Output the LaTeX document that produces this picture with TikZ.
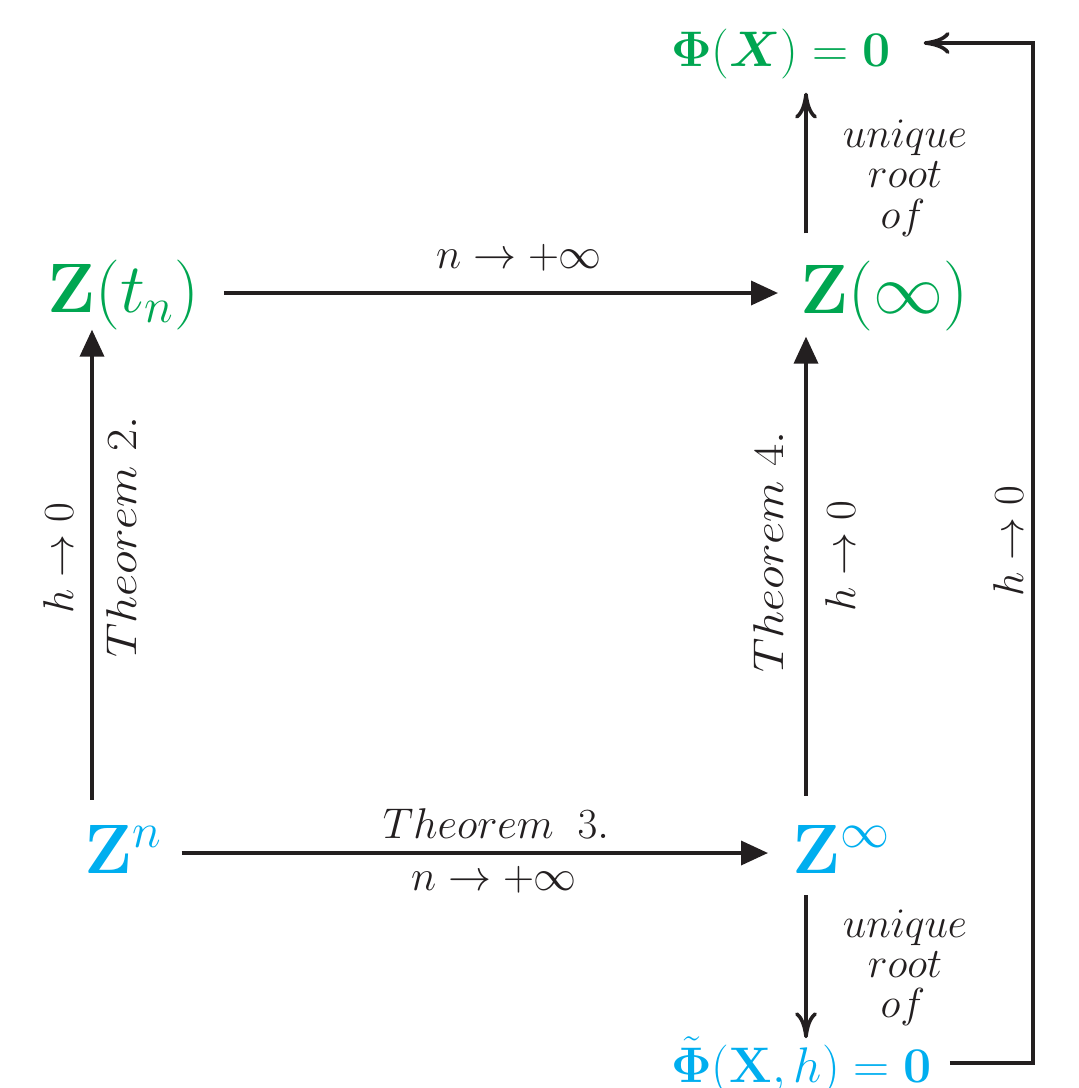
\RequirePackage{fix-cm}
\documentclass[tikz,border=0pt]{standalone}
\usepackage{amsmath,bm}
\usepackage{graphicx}
\usetikzlibrary{arrows.meta,calc}
\definecolor{zgreen}{RGB}{0,166,81}
\definecolor{zcyan}{RGB}{0,174,239}
\definecolor{lineC}{RGB}{35,31,32}
\tikzset{
  ln/.style={line width=3.6pt, draw=lineC},
  tri/.style={ln, -{Triangle[length=27pt,width=24pt]}},
  barb/.style={ln, -{Computer Modern Rightarrow[length=26pt,width=22pt]}},
  zb/.style={anchor=base west, inner sep=0pt, font=\fontsize{70}{84}\selectfont},
  eqn/.style={anchor=base west, inner sep=0pt, font=\fontsize{50}{60}\selectfont},
  lab/.style={anchor=base, inner sep=0pt, text=lineC, font=\fontsize{43}{50}\selectfont},
  rlab/.style={lab, rotate=90},
}
\begin{document}
\begin{tikzpicture}[x=1pt,y=-1pt]
\useasboundingbox (0,0) rectangle (1079,1088);
% guide coordinates
\coordinate (cL) at (92,0);
\coordinate (cR) at (806,0);
\coordinate (cLoop) at (1033,0);
\coordinate (rT) at (0,293);
\coordinate (rB) at (0,853);
\coordinate (rLT) at (0,43);
\coordinate (rLB) at (0,1063);
% main nodes
\node[zb, text=zgreen] (Zt) at (47,312) {$\mathbf{Z}(t_n)$};
\node[zb, text=zgreen] (Zinf) at (800,313) {$\mathbf{Z}(\infty)$};
\node[zb, text=zcyan] (Zn) at (84,873) {$\mathbf{Z}^n$};
\node[zb, text=zcyan] (Zinfb) at (792,873) {$\mathbf{Z}^\infty$};
\node[eqn, text=zgreen] (Phi) at (671,66) {$\mathbf{\Phi}(\bm{X})=\mathbf{0}$};
\node[eqn, text=zcyan] (Phit) at (671,1082) {$\tilde{\mathbf{\Phi}}(\mathbf{X},h)=\mathbf{0}$};
% connectors
\draw[tri] ($(Zt.east|-rT)+(25,0)$) -- ($(Zinf.west|-rT)+(-22,0)$);
\draw[tri] ($(Zn.east|-rB)+(20,0)$) -- ($(Zinfb.west|-rB)+(-24,0)$);
\draw[tri] ($(Zn.north-|cL)+(0,-25)$) -- ($(Zt.south-|cL)+(0,0)$);
\draw[tri] ($(Zinfb.north-|cR)+(0,-29)$) -- ($(Zinf.south-|cR)+(0,6)$);
\draw[barb] ($(Zinf.north-|cR)+(0,-27)$) -- ($(Phi.south-|cR)+(0,14)$);
\draw[barb] ($(Zinfb.south-|cR)+(0,22)$) -- ($(Phit.north-|cR)+(0,2)$);
\draw[barb] ($(Phit.east|-rLB)+(18,0)$) -- (cLoop|-rLB) -- (cLoop|-rLT) -- ($(Phi.east|-rLT)+(33,0)$);
% labels
\node[lab] (lTop) at (519,268) {$n\to+\infty$};
\node[lab] (lTh3) at (496,838) {$Theorem\hspace{0.55em}3.$};
\node[lab] (lBot) at (494,890) {$n\to+\infty$};
\node[rlab] (lL1) at (73,558) {$h\to0$};
\node[rlab] (lL2) at (136,537) {\scalebox{1.12}[1]{$Theorem\ 2.$}};
\node[rlab] (lR1) at (783,552) {\scalebox{1.12}[1]{$Theorem\ 4.$}};
\node[rlab] (lR2) at (855,556) {$h\to0$};
\node[rlab] (lR3) at (1023,541) {$h\to0$};
\node[lab, font=\fontsize{42}{50}\selectfont] (u1) at (905,147) {$unique$};
\node[lab, font=\fontsize{42}{50}\selectfont] (u2) at (905,187) {$root$};
\node[lab, font=\fontsize{42}{50}\selectfont] (u3) at (903,228) {$of$};
\node[lab, font=\fontsize{42}{50}\selectfont] (d1) at (905,937) {$unique$};
\node[lab, font=\fontsize{42}{50}\selectfont] (d2) at (905,977) {$root$};
\node[lab, font=\fontsize{42}{50}\selectfont] (d3) at (903,1017) {$of$};
\end{tikzpicture}
\end{document}
